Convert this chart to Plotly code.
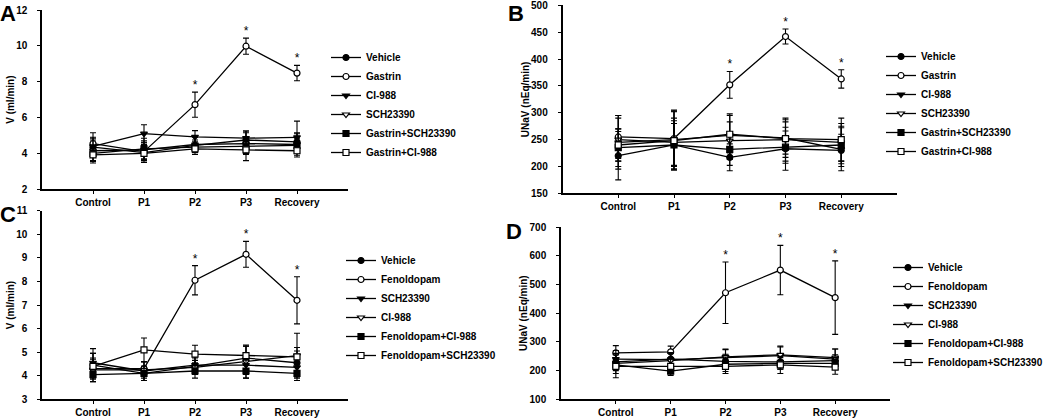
import plotly.graph_objects as go

categories = ["Control", "P1", "P2", "P3", "Recovery"]

# ---------------- Panel A : V (ml/min), gastrin study ----------------
a_names = ["Vehicle", "Gastrin", "CI-988", "SCH23390", "Gastrin+SCH23390", "Gastrin+CI-988"]
a_vehicle = [4.35, 4.05, 4.45, 4.75, 4.65]
a_gastrin = [4.55, 4.10, 6.72, 9.98, 8.48]
a_ci988 = [4.40, 5.10, 4.92, 4.85, 4.90]
a_sch = [4.15, 4.20, 4.50, 4.55, 4.50]
a_gas_sch = [4.00, 4.25, 4.35, 4.40, 4.45]
a_gas_ci = [3.92, 4.00, 4.25, 4.20, 4.15]
a_vehicle_err = [0.5, 0.4, 0.3, 0.5, 0.5]
a_gastrin_err = [0.6, 0.5, 0.7, 0.45, 0.43]
a_ci988_err = [0.5, 0.5, 0.35, 0.4, 0.9]
a_sch_err = [0.6, 0.5, 0.4, 0.6, 0.6]
a_gas_sch_err = [0.4, 0.6, 0.3, 0.4, 0.4]
a_gas_ci_err = [0.45, 0.5, 0.3, 0.6, 0.35]

# ---------------- Panel B : UNaV (nEq/min), gastrin study ----------------
b_names = a_names
b_vehicle = [220, 240, 217, 233, 230]
b_gastrin = [255, 252, 352, 442, 363]
b_ci988 = [245, 250, 258, 253, 232]
b_sch = [250, 245, 248, 250, 245]
b_gas_sch = [235, 240, 232, 236, 240]
b_gas_ci = [240, 248, 260, 252, 250]
b_vehicle_err = [45, 45, 25, 40, 30]
b_gastrin_err = [40, 50, 25, 14, 17]
b_ci988_err = [50, 55, 40, 30, 40]
b_sch_err = [40, 45, 35, 40, 35]
b_gas_sch_err = [35, 40, 30, 30, 35]
b_gas_ci_err = [30, 55, 35, 35, 40]

# ---------------- Panel C : V (ml/min), fenoldopam study ----------------
c_names = ["Vehicle", "Fenoldopam", "SCH23390", "CI-988", "Fenoldopam+CI-988", "Fenoldopam+SCH23390"]
c_vehicle = [4.45, 4.10, 4.40, 4.75, 4.55]
c_fenoldopam = [4.30, 4.30, 8.05, 9.15, 7.20]
c_sch = [4.55, 4.20, 4.45, 4.45, 4.35]
c_ci988 = [4.25, 4.25, 4.35, 4.60, 4.85]
c_fen_ci = [4.05, 4.10, 4.20, 4.20, 4.10]
c_fen_sch = [4.40, 5.10, 4.92, 4.85, 4.80]
c_vehicle_err = [0.5, 0.3, 0.35, 0.5, 0.5]
c_fenoldopam_err = [0.4, 0.3, 0.62, 0.55, 1.0]
c_sch_err = [0.6, 0.4, 0.4, 0.4, 0.4]
c_ci988_err = [0.5, 0.35, 0.3, 0.7, 0.95]
c_fen_ci_err = [0.3, 0.3, 0.3, 0.3, 0.3]
c_fen_sch_err = [0.55, 0.5, 0.37, 0.4, 0.4]

# ---------------- Panel D : UNaV (nEq/min), fenoldopam study ----------------
d_names = c_names
d_vehicle = [230, 240, 232, 230, 235]
d_fenoldopam = [262, 265, 471, 550, 454]
d_sch = [240, 238, 245, 252, 240]
d_ci988 = [225, 235, 248, 255, 245]
d_fen_ci = [220, 198, 222, 225, 225]
d_fen_sch = [215, 215, 215, 220, 212]
d_vehicle_err = [25, 20, 25, 25, 20]
d_fenoldopam_err = [25, 20, 107, 86, 128]
d_sch_err = [30, 25, 30, 30, 35]
d_ci988_err = [35, 25, 25, 30, 30]
d_fen_ci_err = [20, 15, 25, 20, 20]
d_fen_sch_err = [40, 25, 25, 30, 25]

# significance marks (index of series, categories marked)
star_series = 1
star_categories = ["P2", "P3", "Recovery"]

# ---------------- styling ----------------
FONT = "Arial, Liberation Sans, sans-serif"
symbols = ["circle", "circle", "triangle-down", "triangle-down", "square", "square"]
fills = ["black", "white", "black", "white", "black", "white"]

panels = [
    dict(names=a_names,
         means=[a_vehicle, a_gastrin, a_ci988, a_sch, a_gas_sch, a_gas_ci],
         errs=[a_vehicle_err, a_gastrin_err, a_ci988_err, a_sch_err, a_gas_sch_err, a_gas_ci_err],
         ax="", legend="legend"),
    dict(names=b_names,
         means=[b_vehicle, b_gastrin, b_ci988, b_sch, b_gas_sch, b_gas_ci],
         errs=[b_vehicle_err, b_gastrin_err, b_ci988_err, b_sch_err, b_gas_sch_err, b_gas_ci_err],
         ax="2", legend="legend2"),
    dict(names=c_names,
         means=[c_vehicle, c_fenoldopam, c_sch, c_ci988, c_fen_ci, c_fen_sch],
         errs=[c_vehicle_err, c_fenoldopam_err, c_sch_err, c_ci988_err, c_fen_ci_err, c_fen_sch_err],
         ax="3", legend="legend3"),
    dict(names=d_names,
         means=[d_vehicle, d_fenoldopam, d_sch, d_ci988, d_fen_ci, d_fen_sch],
         errs=[d_vehicle_err, d_fenoldopam_err, d_sch_err, d_ci988_err, d_fen_ci_err, d_fen_sch_err],
         ax="4", legend="legend4"),
]

fig = go.Figure()

for p in panels:
    for i, name in enumerate(p["names"]):
        fig.add_trace(go.Scatter(
            x=categories, y=p["means"][i], name=name,
            mode="lines+markers",
            line=dict(color="black", width=1.3),
            marker=dict(symbol=symbols[i], size=6, color=fills[i],
                        line=dict(color="black", width=1.2)),
            error_y=dict(type="data", array=p["errs"][i], color="black",
                         thickness=1.1, width=3),
            xaxis="x" + p["ax"], yaxis="y" + p["ax"],
            legend=p["legend"],
        ))
    # asterisks above the error bars of the agonist series
    idx = [categories.index(c) for c in star_categories]
    sm = p["means"][star_series]
    se = p["errs"][star_series]
    fig.add_trace(go.Scatter(
        x=star_categories, y=[sm[k] + se[k] for k in idx],
        mode="text", text=["*"] * len(idx), textposition="top center",
        textfont=dict(family=FONT, size=12, color="black"),
        showlegend=False, hoverinfo="skip",
        xaxis="x" + p["ax"], yaxis="y" + p["ax"],
    ))

W, H = 1050, 420
def fx(px):
    return px / W
def fy(py):
    return 1 - py / H

tickfont = dict(family=FONT, size=10, color="black", weight="bold")
titlefont = dict(family=FONT, size=10, color="black", weight="bold")

def xaxis(dom, anchor):
    return dict(domain=dom, anchor=anchor, type="category", range=[-1, 5],
                showline=True, linecolor="black", linewidth=1.5,
                ticks="outside", ticklen=3, tickcolor="black", tickwidth=1.2,
                tickfont=tickfont, ticklabelstandoff=0,
                showgrid=False, zeroline=False, automargin=False)

def yaxis(dom, anchor, rng, dtick, title, standoff):
    return dict(domain=dom, anchor=anchor, range=rng, dtick=dtick,
                showline=True, linecolor="black", linewidth=1.5,
                ticks="outside", ticklen=3, tickcolor="black", tickwidth=1.2,
                tickfont=tickfont, ticklabelstandoff=standoff,
                ticklabeloverflow="allow",
                title=dict(text=title, font=titlefont, standoff=0),
                showgrid=False, zeroline=False, automargin=False)

legend_common = dict(font=dict(family=FONT, size=10, color="black", weight="bold"),
                     bgcolor="rgba(0,0,0,0)", borderwidth=0,
                     xanchor="left", yanchor="middle", itemwidth=30)

fig.update_layout(
    width=W, height=H,
    margin=dict(l=0, r=0, t=0, b=0),
    template="none",
    paper_bgcolor="white", plot_bgcolor="white",
    font=dict(family=FONT, color="black"),
    xaxis=xaxis([fx(42), fx(348)], "y"),
    yaxis=yaxis([fy(189.3), fy(10)], "x", [2, 12], 2, "V (ml/min)", 8),
    xaxis2=xaxis([fx(562.5), fx(897)], "y2"),
    yaxis2=yaxis([fy(193.3), fy(5.4)], "x2", [150, 500], 50, "UNaV (nEq/min)", 8),
    xaxis3=xaxis([fx(42), fx(348)], "y3"),
    yaxis3=yaxis([fy(399.3), fy(210.7)], "x3", [3, 11], 1, "V (ml/min)", 8),
    xaxis4=xaxis([fx(561), fx(890)], "y4"),
    yaxis4=yaxis([fy(399.3), fy(227)], "x4", [100, 700], 100, "UNaV (nEq/min)", 8),
    legend=dict(x=fx(326), y=fy(105), **legend_common),
    legend2=dict(x=fx(881), y=fy(104), **legend_common),
    legend3=dict(x=fx(341), y=fy(308), **legend_common),
    legend4=dict(x=fx(888), y=fy(315), **legend_common),
    showlegend=True,
)

letters = [("A", 7.5, 14), ("B", 516, 13), ("C", 7.5, 215), ("D", 514, 231)]
for t, px, py in letters:
    fig.add_annotation(text=t, x=fx(px), y=fy(py), xref="paper", yref="paper",
                       showarrow=False, xanchor="center", yanchor="middle",
                       font=dict(family=FONT, size=22, color="black", weight="bold"))

# remove the browser's default 8px body margin so the 1050x420 figure fills the window
fig.write_html("out.html", config={"displayModeBar": False},
               post_script="document.body.style.margin='0';")
